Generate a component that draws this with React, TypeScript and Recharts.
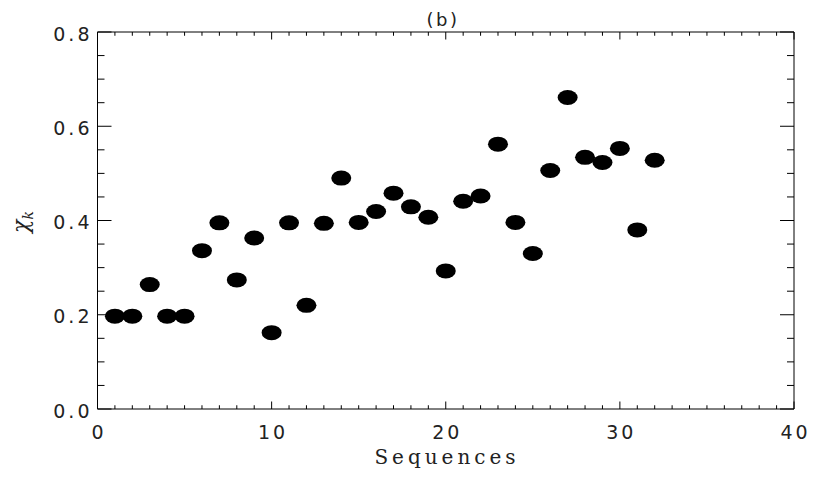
import React from 'react';
import { ScatterChart, Scatter, XAxis, YAxis, Customized } from 'recharts';

const sequences = [1, 2, 3, 4, 5, 6, 7, 8, 9, 10, 11, 12, 13, 14, 15, 16, 17, 18, 19, 20, 21, 22, 23, 24, 25, 26, 27, 28, 29, 30, 31, 32];
const chiValues = [0.197, 0.197, 0.264, 0.197, 0.197, 0.336, 0.395, 0.274, 0.363, 0.162, 0.395, 0.220, 0.394, 0.490, 0.396, 0.419, 0.458, 0.429, 0.407, 0.293, 0.441, 0.452, 0.562, 0.396, 0.330, 0.506, 0.661, 0.534, 0.523, 0.553, 0.380, 0.528];
const xTicks = [0, 1, 2, 3, 4, 5, 6, 7, 8, 9, 10, 11, 12, 13, 14, 15, 16, 17, 18, 19, 20, 21, 22, 23, 24, 25, 26, 27, 28, 29, 30, 31, 32, 33, 34, 35, 36, 37, 38, 39, 40];
const xMajorTicks = [0, 10, 20, 30, 40];
const yTicks = [0, 0.05, 0.1, 0.15, 0.2, 0.25, 0.3, 0.35, 0.4, 0.45, 0.5, 0.55, 0.6, 0.65, 0.7, 0.75, 0.8];
const yMajorTicks = [0, 0.2, 0.4, 0.6, 0.8];
const title = '(b)';
const xTitle = 'Sequences';

const data = sequences.map((s, i) => ({ x: s, y: chiValues[i] }));

const LABEL_FONT = 'DejaVu Sans';
const LS = 3;

const isXMajor = (v: number) => xMajorTicks.some((m) => Math.abs(m - v) < 1e-6);
const isYMajor = (v: number) => yMajorTicks.some((m) => Math.abs(m - v) < 1e-6);

const BottomTick = (p: any) => {
  const v = p.payload.value;
  const major = isXMajor(v);
  return (
    <g>
      <line x1={p.x} x2={p.x} y1={p.y} y2={p.y - (major ? 7.5 : 3.75)} stroke="#000" />
      {major && (
        <text x={p.x + LS / 2} y={p.y + 30} textAnchor="middle" fontSize={19} letterSpacing={LS} fontFamily={LABEL_FONT} fill="#222">
          {v}
        </text>
      )}
    </g>
  );
};

const TopTick = (p: any) => {
  const v = p.payload.value;
  const major = isXMajor(v);
  return <line x1={p.x} x2={p.x} y1={p.y} y2={p.y + (major ? 7.5 : 3.75)} stroke="#000" />;
};

const LeftTick = (p: any) => {
  const v = p.payload.value;
  const major = isYMajor(v);
  return (
    <g>
      <line x1={p.x} x2={p.x + (major ? 14 : 7)} y1={p.y} y2={p.y} stroke="#000" />
      {major && (
        <text x={p.x - 8 + LS} y={p.y + 8.5} textAnchor="end" fontSize={19} letterSpacing={LS} fontFamily={LABEL_FONT} fill="#222">
          {v.toFixed(1)}
        </text>
      )}
    </g>
  );
};

const RightTick = (p: any) => {
  const v = p.payload.value;
  const major = isYMajor(v);
  return <line x1={p.x} x2={p.x - (major ? 14 : 7)} y1={p.y} y2={p.y} stroke="#000" />;
};

const Dot = (p: any) => <ellipse cx={p.cx} cy={p.cy} rx={10} ry={7.5} fill="#000" />;
const NoDot = () => <g />;

const Texts = () => (
  <g>
    <text x={443} y={26} textAnchor="middle" fontSize={18} letterSpacing={2.5} fontFamily={LABEL_FONT} fill="#222">
      {title}
    </text>
    <text x={447} y={464} textAnchor="middle" fontSize={20} letterSpacing={4} fontFamily="DejaVu Serif" fill="#222">
      {xTitle}
    </text>
    <text transform="translate(28,222) rotate(-90)" textAnchor="middle" fontFamily="DejaVu Serif" fill="#222">
      <tspan fontSize={22} fontStyle="italic">χ</tspan>
      <tspan fontSize={14} fontStyle="italic" dy={5}>k</tspan>
    </text>
  </g>
);

export default function App() {
  return (
    <div style={{ position: 'absolute', left: 0, top: 0, width: 817, height: 477, background: '#fff' }}>
      <ScatterChart width={817} height={477} margin={{ top: 31, right: 22, bottom: 0, left: 0 }}>
        <XAxis
          xAxisId="b"
          type="number"
          dataKey="x"
          domain={[0, 40]}
          ticks={xTicks}
          interval={0}
          orientation="bottom"
          height={68}
          tickSize={0}
          tickMargin={0}
          tick={BottomTick}
          axisLine={{ stroke: '#000' }}
          allowDataOverflow
        />
        <XAxis
          xAxisId="t"
          type="number"
          dataKey="x"
          domain={[0, 40]}
          ticks={xTicks}
          interval={0}
          orientation="top"
          height={1}
          tickSize={0}
          tickMargin={0}
          tick={TopTick}
          axisLine={{ stroke: '#000' }}
          allowDataOverflow
        />
        <YAxis
          yAxisId="l"
          type="number"
          dataKey="y"
          domain={[0, 0.8]}
          ticks={yTicks}
          interval={0}
          orientation="left"
          width={97.5}
          tickSize={0}
          tickMargin={0}
          tick={LeftTick}
          axisLine={{ stroke: '#000' }}
          allowDataOverflow
        />
        <YAxis
          yAxisId="r"
          type="number"
          dataKey="y"
          domain={[0, 0.8]}
          ticks={yTicks}
          interval={0}
          orientation="right"
          width={1}
          tickSize={0}
          tickMargin={0}
          tick={RightTick}
          axisLine={{ stroke: '#000' }}
          allowDataOverflow
        />
        <Scatter data={data} xAxisId="t" yAxisId="r" shape={NoDot} isAnimationActive={false} />
        <Scatter data={data} xAxisId="b" yAxisId="l" shape={Dot} isAnimationActive={false} />
        <Customized component={Texts} />
      </ScatterChart>
    </div>
  );
}
